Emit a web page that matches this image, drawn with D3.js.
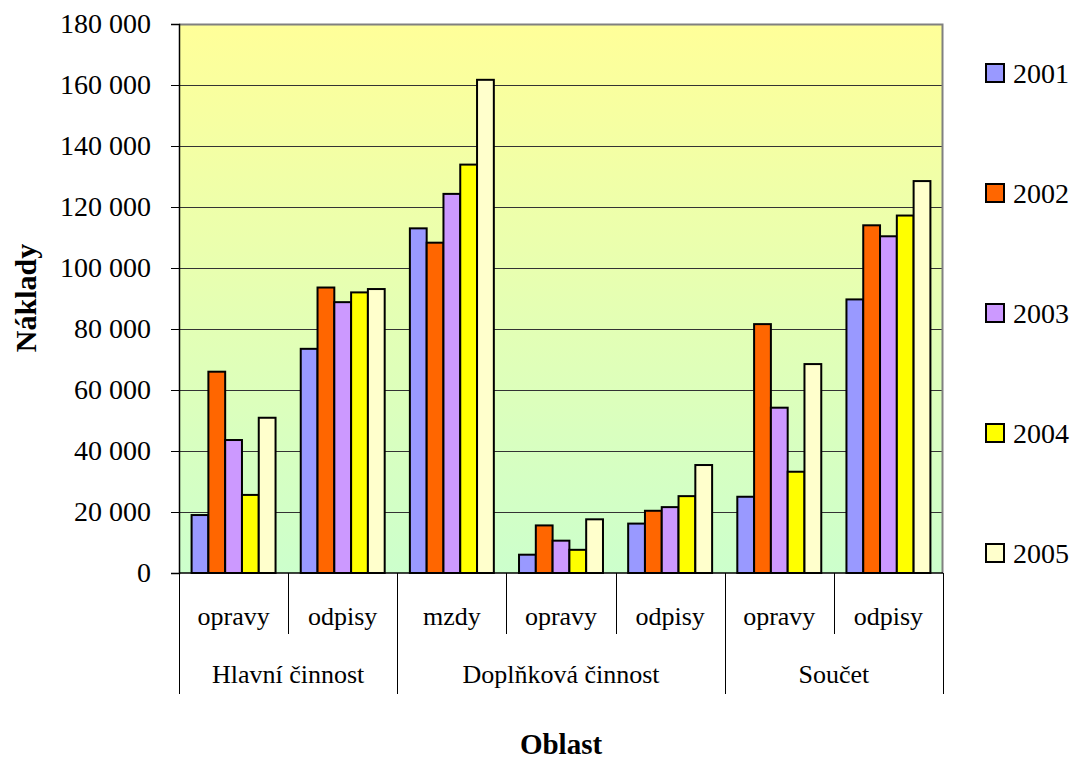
<!DOCTYPE html>
<html>
<head>
<meta charset="utf-8">
<script src="https://cdn.jsdelivr.net/npm/d3@7"></script>
<style>
  html, body { margin: 0; padding: 0; background: #fff; }
  svg { display: block; }
  svg text { font-family: "Liberation Serif", "Times New Roman", serif !important; fill: #000; }
</style>
</head>
<body>
<svg id="chart" width="1079" height="760"></svg>
<script>
// Categories (sub-category within each area) and their area groups
const categories = ["opravy", "odpisy", "mzdy", "opravy", "odpisy", "opravy", "odpisy"];
const groupNames = ["Hlavní činnost", "Doplňková činnost", "Součet"];
const groupSpans = [2, 3, 2]; // number of categories in each group

const years = ["2001", "2002", "2003", "2004", "2005"];

// Costs per year, one value per category
const v2001 = [19000, 73500, 113000, 6000, 16200, 25000, 89700];
const v2002 = [66000, 93600, 108300, 15600, 20400, 81600, 114000];
const v2003 = [43600, 88800, 124300, 10600, 21600, 54200, 110400];
const v2004 = [25600, 92000, 133900, 7600, 25200, 33200, 117200];
const v2005 = [50900, 93100, 161700, 17600, 35400, 68500, 128500];
const seriesValues = [v2001, v2002, v2003, v2004, v2005];

const yTicks = [0, 20000, 40000, 60000, 80000, 100000, 120000, 140000, 160000, 180000];
const colors = ["#9999FF", "#FF6600", "#CC99FF", "#FFFF00", "#FFFFCC"];

const svg = d3.select("#chart");
const plot = { left: 179, right: 943, top: 24, bottom: 573 };

const fmt = d3.formatLocale({ decimal: ",", thousands: "\u00a0", grouping: [3], currency: ["", " Kč"] }).format(",d");

const idx = d3.range(categories.length);
const x0 = d3.scaleBand().domain(idx).range([plot.left, plot.right]).paddingInner(0).paddingOuter(0);
const x1 = d3.scaleBand().domain(years).range([0, x0.bandwidth()]).paddingInner(0).paddingOuter(0.75);
const y = d3.scaleLinear().domain([0, 180000]).range([plot.bottom, plot.top]);

// Plot background gradient
const defs = svg.append("defs");
const grad = defs.append("linearGradient").attr("id", "bg").attr("x1", 0).attr("y1", 0).attr("x2", 0).attr("y2", 1);
grad.append("stop").attr("offset", "0%").attr("stop-color", "#FFFF99");
grad.append("stop").attr("offset", "100%").attr("stop-color", "#CCFFCC");

svg.append("rect")
  .attr("x", plot.left).attr("y", plot.top)
  .attr("width", plot.right - plot.left).attr("height", plot.bottom - plot.top)
  .attr("fill", "url(#bg)");

// Gridlines
svg.append("g")
  .selectAll("line")
  .data(yTicks.filter(d => d > 0 && d < 180000))
  .join("line")
  .attr("x1", plot.left).attr("x2", plot.right)
  .attr("y1", d => Math.round(y(d)) + 0.5).attr("y2", d => Math.round(y(d)) + 0.5)
  .attr("stroke", "#333").attr("stroke-width", 1);

// Plot border (top and right)
svg.append("path")
  .attr("d", `M${plot.left},${plot.top + 0.5}H${plot.right - 0.5}V${plot.bottom}`)
  .attr("fill", "none").attr("stroke", "#808080").attr("stroke-width", 2);

// Bars
const catG = svg.append("g").selectAll("g")
  .data(idx)
  .join("g")
  .attr("transform", i => `translate(${x0(i)},0)`);

catG.selectAll("rect")
  .data(i => years.map((yr, s) => ({ yr, s, v: seriesValues[s][i] })))
  .join("rect")
  .attr("x", d => x1(d.yr))
  .attr("y", d => y(d.v))
  .attr("width", x1.bandwidth())
  .attr("height", d => y(0) - y(d.v))
  .attr("fill", d => colors[d.s])
  .attr("stroke", "#000")
  .attr("stroke-width", 2);

// Y axis
const yAxis = d3.axisLeft(y).tickValues(yTicks).tickFormat(fmt).tickSize(8).tickPadding(20);
const yg = svg.append("g").attr("transform", `translate(${plot.left},0)`).call(yAxis);
yg.attr("font-family", null);
yg.select(".domain").attr("stroke", "#000").attr("stroke-width", 1.5);
yg.selectAll(".tick line").attr("stroke", "#000");
yg.selectAll(".tick text").attr("font-size", 28);

// X axis line
svg.append("line")
  .attr("x1", plot.left).attr("x2", plot.right)
  .attr("y1", plot.bottom).attr("y2", plot.bottom)
  .attr("stroke", "#000").attr("stroke-width", 1.5);

// Category separators and labels
const subBottom = 634, groupBottom = 694;
const boundaries = d3.range(categories.length + 1).map(i => i < categories.length ? x0(i) : plot.right);
const groupStarts = d3.cumsum([0].concat(groupSpans)); // [0,2,5,7]

svg.append("g").selectAll("line")
  .data(d3.range(categories.length + 1))
  .join("line")
  .attr("x1", i => Math.round(boundaries[i]) + 0.5)
  .attr("x2", i => Math.round(boundaries[i]) + 0.5)
  .attr("y1", plot.bottom)
  .attr("y2", i => groupStarts.includes(i) ? groupBottom : subBottom)
  .attr("stroke", "#000").attr("stroke-width", 1);

svg.append("g").selectAll("text")
  .data(idx)
  .join("text")
  .attr("x", i => x0(i) + x0.bandwidth() / 2)
  .attr("y", 625)
  .attr("text-anchor", "middle")
  .attr("font-size", 26)
  .text(i => categories[i]);

svg.append("g").selectAll("text")
  .data(groupNames)
  .join("text")
  .attr("x", (g, k) => (boundaries[groupStarts[k]] + boundaries[groupStarts[k + 1]]) / 2)
  .attr("y", 683)
  .attr("text-anchor", "middle")
  .attr("font-size", 26)
  .text(g => g);

// Axis titles
svg.append("text")
  .attr("x", 561).attr("y", 754)
  .attr("text-anchor", "middle")
  .attr("font-size", 29).attr("font-weight", "bold")
  .text("Oblast");

svg.append("text")
  .attr("transform", "translate(36,298) rotate(-90)")
  .attr("text-anchor", "middle")
  .attr("font-size", 30).attr("font-weight", "bold")
  .text("Náklady");

// Legend
const legend = svg.append("g").selectAll("g")
  .data(years)
  .join("g")
  .attr("transform", (d, i) => `translate(986,${64 + i * 120})`);

legend.append("rect")
  .attr("width", 18).attr("height", 18)
  .attr("fill", (d, i) => colors[i])
  .attr("stroke", "#000").attr("stroke-width", 2);

legend.append("text")
  .attr("x", 27).attr("y", 19)
  .attr("font-size", 28)
  .text(d => d);
</script>
</body>
</html>
